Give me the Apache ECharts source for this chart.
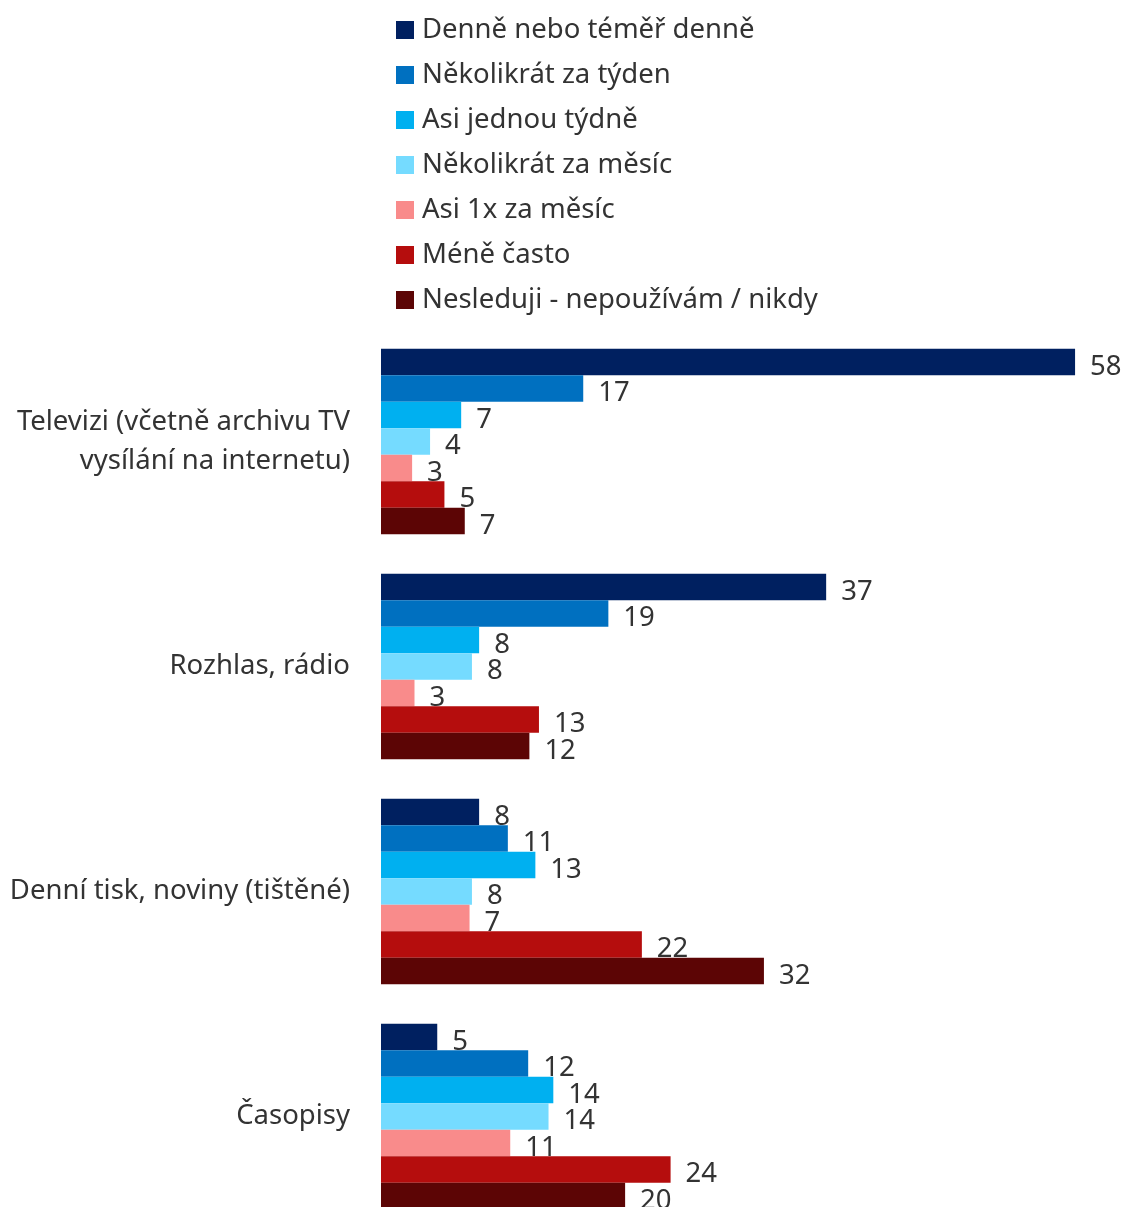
<!DOCTYPE html>
<html>
<head>
<meta charset="utf-8">
<script src="https://cdn.jsdelivr.net/npm/echarts@6/dist/echarts.min.js"></script>
<style>
html,body{margin:0;padding:0;background:#fff;overflow:hidden;}
#chart{width:1125px;height:1240px;}
</style>
</head>
<body>
<div id="chart"></div>
<script>
const categories = ["Televizi (včetně archivu TV\nvysílání na internetu)", "Rozhlas, rádio", "Denní tisk, noviny (tištěné)", "Časopisy"];
const seriesNames = ["Denně nebo téměř denně", "Několikrát za týden", "Asi jednou týdně", "Několikrát za měsíc", "Asi 1x za měsíc", "Méně často", "Nesleduji - nepoužívám / nikdy"];
const colors = ["#002060", "#0070C0", "#00B0F0", "#75DBFF", "#F98B8B", "#B50D0D", "#5C0505"];
const dailyValues = [58.0, 37.2, 8.2, 4.7];
const severalWeekValues = [16.9, 19.0, 10.6, 12.3];
const onceWeekValues = [6.7, 8.2, 12.9, 14.4];
const severalMonthValues = [4.1, 7.6, 7.6, 14.0];
const onceMonthValues = [2.6, 2.8, 7.4, 10.8];
const lessOftenValues = [5.3, 13.2, 21.8, 24.2];
const neverValues = [7.0, 12.4, 32.0, 20.4];
const allValues = [dailyValues, severalWeekValues, onceWeekValues, severalMonthValues, onceMonthValues, lessOftenValues, neverValues];

const FONT = "'Noto Sans', 'Open Sans', sans-serif";
const chart = echarts.init(document.getElementById('chart'));
chart.setOption({
  animation: false,
  textStyle: { fontFamily: FONT },
  legend: {
    orient: 'vertical',
    left: 391,
    top: 10,
    itemWidth: 18,
    itemHeight: 18,
    itemGap: 15,
    icon: 'rect',
    data: seriesNames,
    textStyle: { fontSize: 27.5, color: '#333333', fontFamily: FONT, lineHeight: 30, padding: [0, 0, 0, 3] }
  },
  grid: { left: 381, top: 329, width: 718, height: 900, containLabel: false },
  xAxis: {
    type: 'value', min: 0, max: 60,
    show: false
  },
  yAxis: {
    type: 'category', data: categories, inverse: true,
    axisLine: { show: false }, axisTick: { show: false },
    axisLabel: { fontSize: 27.5, color: '#333333', margin: 31, lineHeight: 39, align: 'right', fontFamily: FONT }
  },
  series: seriesNames.map((name, i) => ({
    name: name,
    type: 'bar',
    data: allValues[i],
    barWidth: 26.5,
    barGap: '0%',
    itemStyle: { color: colors[i] },
    label: {
      show: true, position: 'right', distance: 15, offset: [0, 5],
      fontSize: 27.5, color: '#333333', fontFamily: FONT,
      formatter: p => Math.round(p.value)
    }
  }))
});
</script>
</body>
</html>
